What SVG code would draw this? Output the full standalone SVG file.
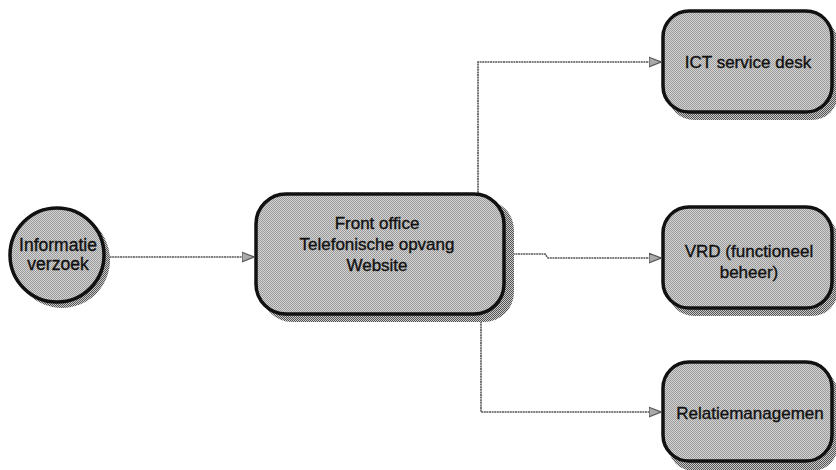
<svg xmlns="http://www.w3.org/2000/svg" width="836" height="470" viewBox="0 0 836 470">
<defs>
<pattern id="dots" width="2" height="2" patternUnits="userSpaceOnUse">
<rect width="2" height="2" fill="#d4d4d4"/>
<rect width="1" height="1" fill="#9a9a9a"/>
<rect x="1" y="1" width="1" height="1" fill="#9a9a9a"/>
</pattern>
<pattern id="shade" width="2" height="2" patternUnits="userSpaceOnUse">
<rect width="2" height="2" fill="#c8c8c8"/>
<rect width="1" height="1" fill="#555"/>
<rect x="1" y="1" width="1" height="1" fill="#555"/>
</pattern>
<marker id="arr" viewBox="0 0 10 10" refX="10" refY="5" markerWidth="12" markerHeight="12" markerUnits="userSpaceOnUse" orient="auto">
<path d="M0,1 L10,5 L0,9 Z" fill="#aaa" stroke="#555" stroke-width="1"/>
</marker>
</defs>
<style>
.shadow{fill:url(#shade);stroke:none}
.node{fill:url(#dots);stroke:#111;stroke-width:3.5}
.lbl{font-family:"Liberation Sans",Arial,sans-serif;font-size:17px;fill:#111;stroke:#111;stroke-width:0.35;text-anchor:middle}
.conn{fill:none;stroke:#555;stroke-width:1.6;stroke-dasharray:2 0.6}
</style>
<rect width="836" height="470" fill="#fff"/>
<g id="connectors">
<path class="conn" d="M107,257 L254,257" marker-end="url(#arr)"/>
<path class="conn" d="M478,193 L478,62 L661,62" marker-end="url(#arr)"/>
<path class="conn" d="M505,254 L545,254 L548,258 L661,258" marker-end="url(#arr)"/>
<path class="conn" d="M481,316 L481,412 L661,412" marker-end="url(#arr)"/>
</g>
<g id="informatie-verzoek">
<circle class="shadow" cx="62" cy="260" r="48"/>
<circle class="node" cx="57" cy="255" r="47"/>
<text class="lbl" x="58" y="251" style="font-size:17.5px">Informatie</text>
<text class="lbl" x="58" y="270" style="font-size:17.5px">verzoek</text>
</g>
<g id="front-office">
<rect class="shadow" x="262" y="200" width="252" height="122" rx="30"/>
<rect class="node" x="256" y="194" width="248" height="120" rx="30"/>
<text class="lbl" x="377" y="229">Front office</text>
<text class="lbl" x="377" y="250">Telefonische opvang</text>
<text class="lbl" x="377" y="271">Website</text>
</g>
<g id="ict-service-desk">
<rect class="shadow" x="668" y="17" width="170" height="103" rx="26"/>
<rect class="node" x="663" y="11" width="169" height="101" rx="26"/>
<text class="lbl" x="748" y="68">ICT service desk</text>
</g>
<g id="vrd">
<rect class="shadow" x="668" y="213" width="170" height="103" rx="26"/>
<rect class="node" x="663" y="207" width="169" height="101" rx="26"/>
<text class="lbl" x="749" y="257">VRD (functioneel</text>
<text class="lbl" x="749" y="278">beheer)</text>
</g>
<g id="relatiemanagement">
<rect class="shadow" x="668" y="368" width="170" height="103" rx="26"/>
<rect class="node" x="663" y="362" width="169" height="99" rx="26"/>
<text class="lbl" x="750" y="419">Relatiemanagemen</text>
</g>
</svg>
